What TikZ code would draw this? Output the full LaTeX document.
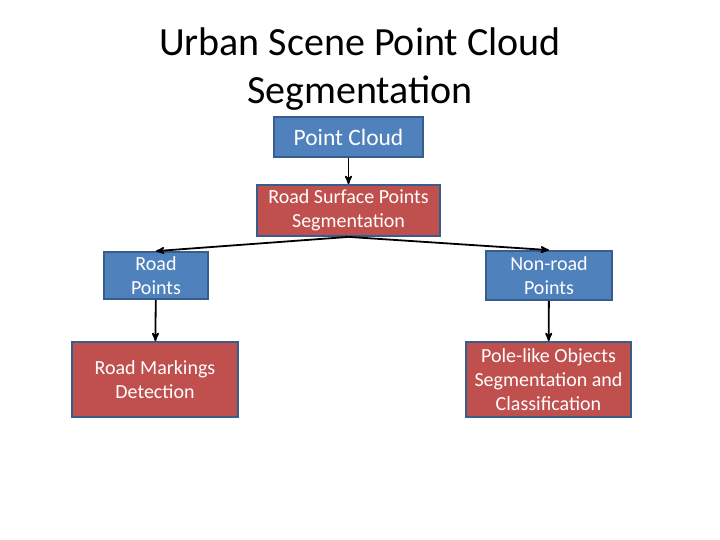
\documentclass[tikz,border=0pt]{standalone}
\usepackage{fontspec}
\setmainfont{Carlito}
\usepackage{tikz}
\usetikzlibrary{arrows}

\definecolor{boxblue}{RGB}{79,129,189}
\definecolor{boxred}{RGB}{192,80,77}
\definecolor{boxline}{RGB}{56,93,138}

\begin{document}
\begin{tikzpicture}
        [x=1pt,y=-1pt,->,>=stealth',shorten >=0pt,
        thick,base node/.style={rectangle,draw=boxline,line width=1.8pt,text=white,align=center,inner sep=0pt,font=\fontsize{20}{24}\selectfont},
        blue node/.style={base node,fill=boxblue}, red node/.style={base node,fill=boxred}]
    
    \useasboundingbox[fill=white] (0,0) rectangle (720,540);
    
    \node[font=\fontsize{40}{48}\selectfont,align=center] (title) at (360,69) {Urban Scene Point Cloud\\Segmentation};
    
    \node[blue node,minimum width=149pt,minimum height=40pt,font=\fontsize{23.5}{24}\selectfont] (1) at (348.5,137) {Point Cloud};
    \node[red node,minimum width=183pt,minimum height=51pt] (2) at (348.5,210.5) {Road Surface Points\\Segmentation};
    \node[blue node,minimum width=104pt,minimum height=47pt] (3) at (156,275.5) {Road\\Points};
    \node[blue node,minimum width=126pt,minimum height=49pt] (4) at (549,275.5) {Non-road\\Points};
    \node[red node,minimum width=166pt,minimum height=75pt] (5) at (155,379.5) {Road Markings\\Detection};
    \node[red node,minimum width=165pt,minimum height=75pt] (6) at (548.5,379.5) {Pole-like Objects\\Segmentation and\\Classification};
    
    \path[line width=1.8pt]
    (1) edge (2)
    (2.south) edge (3.north)
    (2.south) edge (4.north)
    (3) edge (5)
    (4) edge (6);
    
\end{tikzpicture}
\end{document}
